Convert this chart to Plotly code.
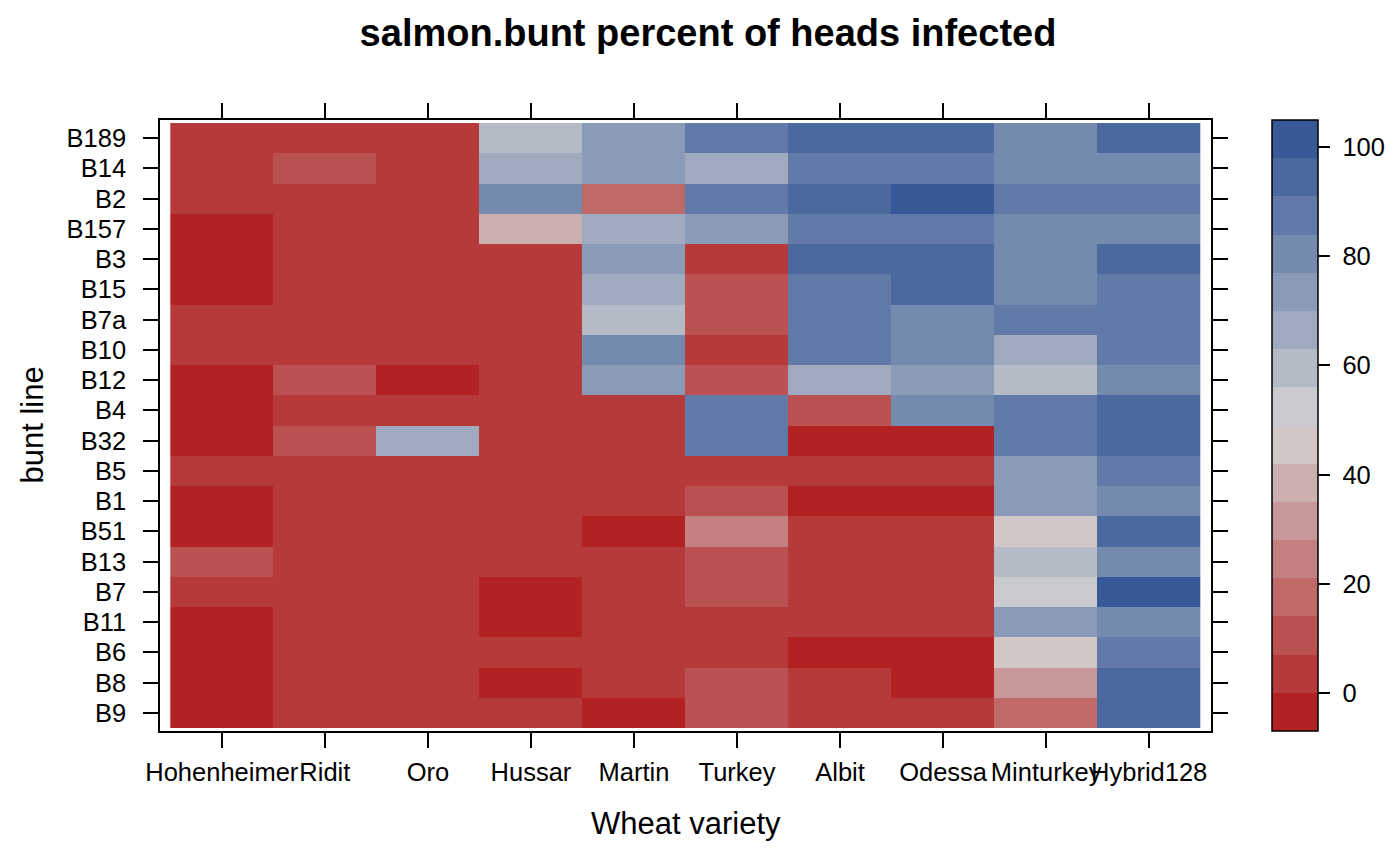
import plotly.graph_objects as go

# ---- data (percent of heads infected), rows listed top -> bottom ----
bunt_lines = ["B189", "B14", "B2", "B157", "B3", "B15", "B7a", "B10", "B12", "B4",
              "B32", "B5", "B1", "B51", "B13", "B7", "B11", "B6", "B8", "B9"]
varieties = ["Hohenheimer", "Ridit", "Oro", "Hussar", "Martin", "Turkey",
             "Albit", "Odessa", "Minturkey", "Hybrid128"]

hohenheimer = [3, 3, 3, 0, 0, 0, 3, 3, 0, 0, 0, 3, 0, 0, 10, 3, 0, 0, 0, 0]
ridit       = [3, 10, 3, 3, 3, 3, 3, 3, 10, 3, 10, 3, 3, 3, 3, 3, 3, 3, 3, 3]
oro         = [3, 3, 3, 3, 3, 3, 3, 3, 0, 3, 67, 3, 3, 3, 3, 3, 3, 3, 3, 3]
hussar      = [60, 67, 80, 38, 3, 3, 3, 3, 3, 3, 3, 3, 3, 3, 3, 0, 0, 3, 0, 3]
martin      = [73, 73, 18, 67, 73, 67, 60, 80, 73, 3, 3, 3, 3, 0, 3, 3, 3, 3, 3, 0]
turkey      = [87, 67, 87, 73, 3, 10, 10, 3, 10, 87, 87, 3, 10, 25, 10, 10, 3, 3, 10, 10]
albit       = [94, 87, 94, 87, 94, 87, 87, 87, 67, 10, 0, 3, 0, 3, 3, 3, 3, 0, 3, 3]
odessa      = [94, 87, 98, 87, 94, 94, 80, 80, 73, 80, 0, 3, 0, 3, 3, 3, 3, 0, 0, 3]
minturkey   = [80, 80, 87, 80, 80, 80, 87, 67, 60, 87, 87, 73, 73, 45, 60, 52, 73, 45, 32, 18]
hybrid128   = [94, 80, 87, 80, 94, 87, 87, 87, 80, 94, 94, 87, 80, 94, 80, 98, 80, 87, 94, 94]

columns = [hohenheimer, ridit, oro, hussar, martin, turkey, albit, odessa, minturkey, hybrid128]

colorbar_ticks = [0, 20, 40, 60, 80, 100]

# ---- build matrix (y = 1 at bottom row B9) ----
n_rows = len(bunt_lines)
n_cols = len(varieties)
y_labels = bunt_lines[::-1]
z = [[columns[c][n_rows - 1 - r] for c in range(n_cols)] for r in range(n_rows)]
xs = list(range(1, n_cols + 1))
ys = list(range(1, n_rows + 1))

# lattice-style z limits and 16 equal bins
flat = [v for col in columns for v in col]
zlo, zhi = min(flat), max(flat)
pad = 0.07 * (zhi - zlo)
zmin, zmax = zlo - pad, zhi + pad
nbins = 16

# colorRampPalette(c("firebrick", "lightgray", "#375997"))(16)
anchors = [(178, 34, 34), (211, 211, 211), (55, 89, 151)]
def ramp(t):
    seg = t * (len(anchors) - 1)
    i = min(int(seg), len(anchors) - 2)
    f = seg - i
    a, b = anchors[i], anchors[i + 1]
    return "rgb(%d,%d,%d)" % tuple(round(a[k] + (b[k] - a[k]) * f) for k in range(3))

pal = [ramp(i / (nbins - 1)) for i in range(nbins)]
colorscale = []
for i, c in enumerate(pal):
    colorscale.append([i / nbins, c])
    colorscale.append([(i + 1) / nbins, c])

FONT = "Liberation Sans, Arial, Helvetica, sans-serif"
TICK = 25.5

# page is shown with an 8px body margin, so the plot area is offset accordingly
ML, MT = 152, 112
PW, PH = 1051, 611

fig = go.Figure(go.Heatmap(
    x=xs, y=ys, z=z,
    zmin=zmin, zmax=zmax,
    colorscale=colorscale,
    xgap=0, ygap=0,
    colorbar=dict(
        x=(1272 - 160) / PW, xanchor="left", xpad=0,
        y=0.5, yanchor="middle", ypad=0,
        len=1, lenmode="fraction",
        thickness=46, thicknessmode="pixels",
        outlinewidth=1.5, outlinecolor="black",
        tickvals=colorbar_ticks,
        ticktext=["\u00a0" + str(v) for v in colorbar_ticks],
        ticks="outside", ticklen=12, tickwidth=1.5, tickcolor="black",
        tickfont=dict(size=TICK, color="black", family=FONT),
    ),
    hoverongaps=False,
))

fig.update_layout(
    width=1400, height=866, autosize=False,
    margin=dict(l=ML, r=1400 - ML - PW, t=MT, b=866 - MT - PH),
    paper_bgcolor="white", plot_bgcolor="white",
    font=dict(family=FONT, color="black"),
    title=dict(text="<b>salmon.bunt percent of heads infected</b>",
               x=0.5, xref="container", xanchor="center",
               y=1 - 25 / 866, yref="container", yanchor="middle",
               font=dict(size=38, family=FONT, color="black")),
    xaxis=dict(range=[0.4, n_cols + 0.6], tickmode="array", tickvals=xs, ticktext=varieties,
               showgrid=False, zeroline=False, showline=True, linecolor="black", linewidth=1.5,
               mirror="ticks", ticks="outside", ticklen=15, tickwidth=1.5, tickcolor="black",
               tickfont=dict(size=TICK, color="black"), ticklabelstandoff=3, tickangle=0),
    yaxis=dict(range=[0.4, n_rows + 0.6], tickmode="array", tickvals=ys, ticktext=y_labels,
               showgrid=False, zeroline=False, showline=True, linecolor="black", linewidth=1.5,
               mirror="ticks", ticks="outside", ticklen=15, tickwidth=1.5, tickcolor="black",
               tickfont=dict(size=TICK, color="black"), ticklabelstandoff=12),
    annotations=[
        dict(text="Wheat variety", xref="paper", yref="paper", x=0.5, y=(731 - 823) / PH,
             xanchor="center", yanchor="middle", showarrow=False,
             font=dict(size=31, color="black", family=FONT)),
        dict(text="bunt line", xref="paper", yref="paper", x=(32 - 160) / PW, y=0.5,
             xanchor="center", yanchor="middle", showarrow=False, textangle=-90,
             font=dict(size=31, color="black", family=FONT)),
    ],
)

fig.write_html("out.html")
